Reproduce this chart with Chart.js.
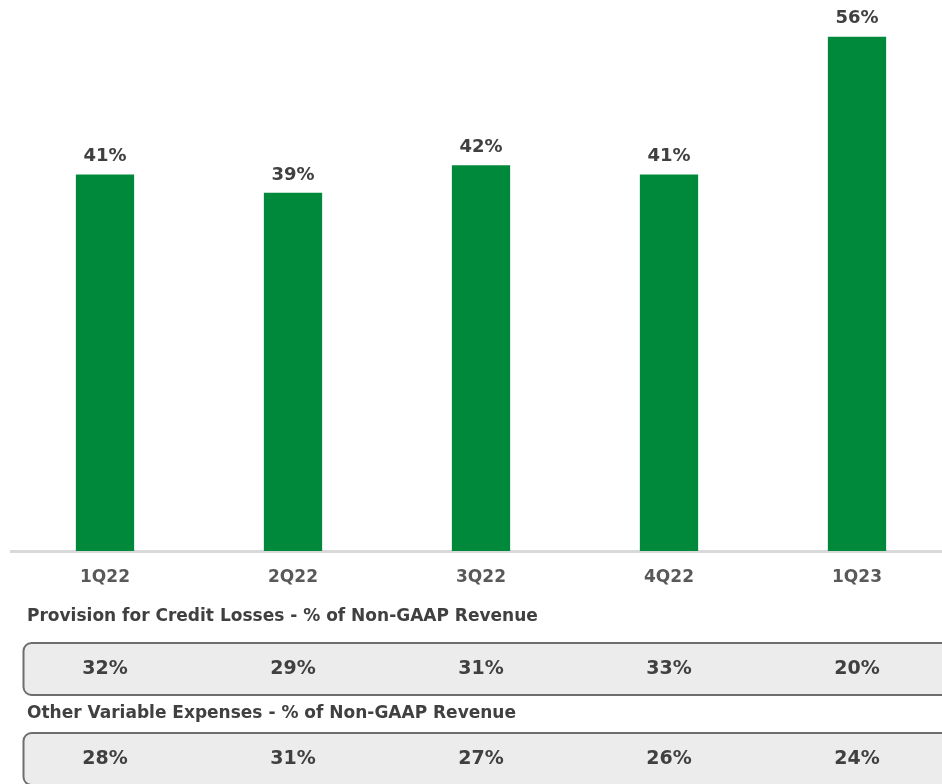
<!DOCTYPE html>
<html>
<head>
<meta charset="utf-8">
<script src="https://cdn.jsdelivr.net/npm/chart.js@4/dist/chart.umd.min.js"></script>
<style>
  html, body { margin: 0; padding: 0; background: #ffffff; overflow: hidden; }
  #wrap { width: 960px; height: 784px; }
</style>
</head>
<body>
<div id="wrap"><canvas id="ratioChart" width="960" height="784"></canvas></div>
<script>
var quarters = ["1Q22", "2Q22", "3Q22", "4Q22", "1Q23"];
var mainRatio = [41, 39, 42, 41, 56];
var provisionPct = [32, 29, 31, 33, 20];
var otherVarPct = [28, 31, 27, 26, 24];

var provisionTitle = "Provision for Credit Losses - % of Non-GAAP Revenue";
var otherVarTitle = "Other Variable Expenses - % of Non-GAAP Revenue";

var FONT = "'DejaVu Sans', sans-serif";
var green = "#00893a";

// value labels above each bar
var barLabels = {
  id: "barLabels",
  afterDatasetsDraw: function (chart) {
    var ctx = chart.ctx;
    var meta = chart.getDatasetMeta(0);
    ctx.save();
    ctx.font = "700 18px " + FONT;
    ctx.fillStyle = "#404040";
    ctx.textAlign = "center";
    ctx.textBaseline = "middle";
    meta.data.forEach(function (bar, i) {
      ctx.fillText(mainRatio[i] + "%", bar.x, bar.y - 18);
    });
    ctx.restore();
  },
};

// the two small tables under the axis
function drawRow(chart, title, values, titleY, boxTop) {
  var ctx = chart.ctx;
  var xScale = chart.scales.x;
  ctx.save();
  ctx.font = "700 17px " + FONT;
  ctx.fillStyle = "#404040";
  ctx.textAlign = "left";
  ctx.textBaseline = "middle";
  ctx.fillText(title, 27, titleY);

  ctx.beginPath();
  ctx.roundRect(23.5, boxTop, 960, 52, 8);
  ctx.fillStyle = "#ececec";
  ctx.fill();
  ctx.lineWidth = 2;
  ctx.strokeStyle = "#6e6e6e";
  ctx.stroke();

  ctx.font = "700 19px " + FONT;
  ctx.fillStyle = "#404040";
  ctx.textAlign = "center";
  values.forEach(function (v, i) {
    ctx.fillText(v + "%", xScale.getPixelForValue(i), boxTop + 26);
  });
  ctx.restore();
}

var tables = {
  id: "tables",
  afterDraw: function (chart) {
    drawRow(chart, provisionTitle, provisionPct, 617, 643);
    drawRow(chart, otherVarTitle, otherVarPct, 714, 733);
  },
};

var ctx = document.getElementById("ratioChart").getContext("2d");

var myChart = new Chart(ctx, {
  type: "bar",
  data: {
    labels: quarters,
    datasets: [
      {
        data: mainRatio,
        backgroundColor: green,
        borderWidth: 0,
        categoryPercentage: 1,
        barPercentage: 0.31,
      },
    ],
  },
  options: {
    responsive: false,
    animation: false,
    layout: {
      padding: { left: 11, right: 9, top: 0, bottom: 0 },
    },
    scales: {
      x: {
        grid: { display: false, drawTicks: false },
        border: { display: true, color: "#d9d9d9", width: 3 },
        ticks: {
          color: "#595959",
          padding: 16,
          font: { family: FONT, size: 17, weight: "700" },
        },
        afterFit: function (scale) {
          scale.height = 233; // room for the tables below
        },
      },
      y: {
        display: false,
        min: 0,
        max: 60,
      },
    },
    plugins: {
      legend: { display: false },
      tooltip: { enabled: false },
    },
  },
  plugins: [barLabels, tables],
});
</script>
</body>
</html>
